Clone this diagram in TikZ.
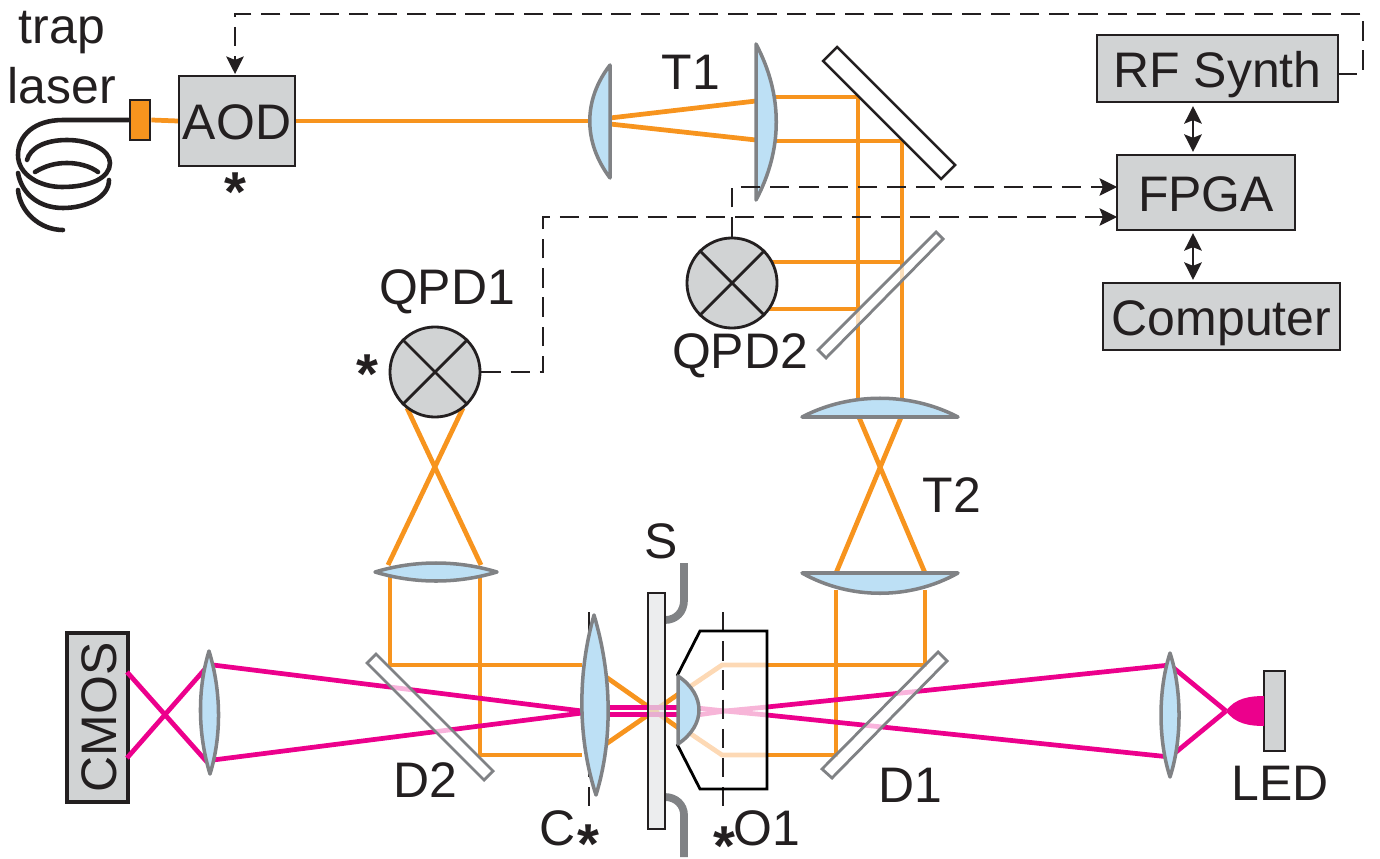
\documentclass[tikz,border=0pt]{standalone}
\usepackage{fontspec}
\setmainfont{Liberation Sans}
\usetikzlibrary{arrows.meta}
\definecolor{trap}{HTML}{F7941E}
\definecolor{trappale}{HTML}{FDD9B5}
\definecolor{img}{HTML}{EC008C}
\definecolor{imgpale}{HTML}{F7B5D8}
\definecolor{glass}{HTML}{BDE0F5}
\definecolor{boxgray}{HTML}{D1D3D4}
\definecolor{slide}{HTML}{E6E7E8}
\definecolor{rim}{HTML}{808285}
\definecolor{ink}{HTML}{231F20}
\newcommand{\markstar}{\fontsize{16}{16}\selectfont\raisebox{-0.42em}[0.31em][0pt]{\textbf{*}}}
\tikzset{
    lbl/.style={font=\fontsize{14.2}{16}\selectfont,text=ink,inner sep=0pt},
    ebox/.style={draw=ink,fill=boxgray,line width=0.6pt,inner sep=0pt,text height=10.8pt,text depth=0pt,font=\fontsize{14.2}{16}\selectfont,text=ink},
    trapbeam/.style={draw=trap,line width=1.35pt},
    palebeam/.style={draw=trappale,line width=1.35pt},
    imgbeam/.style={draw=img,line width=1.35pt},
    lens/.style={draw=rim,fill=glass,line width=1pt,line join=round},
    dichroic/.style={draw=rim,fill=white,fill opacity=0.7,line width=0.8pt},
    qpd/.style={circle,draw=ink,fill=boxgray,line width=0.8pt,minimum size=0.9cm,inner sep=0pt},
    sig/.style={draw=ink,line width=0.4pt,dash pattern=on 5.5pt off 2.8pt},
    tip/.style={-{Stealth[length=5pt,width=5pt,inset=1pt]}},
    link/.style={draw=ink,line width=0.6pt,{Stealth[length=5pt,width=5pt,inset=1pt]}-{Stealth[length=5pt,width=5pt,inset=1pt]}},
    holder/.style={draw=rim,line width=2.2pt},
    fiber/.style={draw=ink,line width=1.3pt,line cap=round},
}
\begin{document}
\begin{tikzpicture}[x=0.01cm,y=-0.01cm]
    \useasboundingbox (0,0) rectangle (1380,858);
    % electronics
    \node[ebox,minimum width=1.16cm,minimum height=0.9cm] (aod) at (237,121) {AOD};
    \node[ebox,minimum width=2.41cm,minimum height=0.67cm] (rfsynth) at (1217.5,68.5) {RF Synth};
    \node[ebox,minimum width=1.78cm,minimum height=0.75cm] (fpga) at (1206,192.5) {FPGA};
    \node[ebox,minimum width=2.37cm,minimum height=0.67cm] (computer) at (1221.5,316.5) {Computer};
    \node[ebox,line width=1.1pt,minimum width=1.69cm,minimum height=0.61cm,rotate=90] (cmos) at (97.5,717.5) {CMOS};
    \node[ebox,line width=0.8pt,minimum width=0.21cm,minimum height=0.8cm] (led) at (1274.5,711) {};
    \node[draw=ink,fill=trap,line width=0.8pt,minimum width=0.2cm,minimum height=0.4cm,inner sep=0pt] (coupler) at (140,120) {};
    % fiber
    \draw[fiber] (coupler.west) -- (63,120) .. controls (35,120) and (18,135) .. (18,155) .. controls (18,175) and (40,187) .. (62,187) .. controls (90,187) and (110,178) .. (110,163) .. controls (110,150) and (90,140) .. (67,140) .. controls (45,140) and (30,148) .. (27,160);
    \draw[fiber] (35,172) .. controls (45,166) and (55,163) .. (67,163) .. controls (78,163) and (90,166) .. (98,172);
    \draw[fiber] (109,180) .. controls (109,198) and (85,208) .. (63,208) .. controls (40,208) and (22,195) .. (18,173);
    \draw[fiber] (18,190) .. controls (20,212) and (40,230) .. (63,230);
    % trap beam
    \draw[trapbeam] (coupler.east) -- (aod.west);
    \draw[trapbeam] (aod.east) -- (592,121);
    \draw[trapbeam] (610,118) -- (756,101);
    \draw[trapbeam] (610,124) -- (756,140);
    \draw[trapbeam] (770,97) -- (858,97) -- (858,400);
    \draw[trapbeam] (770,141) -- (902,141) -- (902,400);
    \draw[trapbeam] (772,262) -- (902,262);
    \draw[trapbeam] (768,309) -- (858,309);
    \draw[trapbeam] (858,415) -- (925,573);
    \draw[trapbeam] (902,415) -- (836,573);
    \draw[trapbeam] (836,590) -- (836,755) -- (767,755);
    \draw[trapbeam] (925,590) -- (925,665) -- (767,665);
    \draw[palebeam] (767,665) -- (722,665) -- (688,688);
    \draw[palebeam] (767,755) -- (722,755) -- (688,732);
    \draw[trapbeam] (582,665) -- (390,665) -- (390,570);
    \draw[trapbeam] (582,755) -- (480,755) -- (480,570);
    \draw[trapbeam] (388,565) -- (463,408);
    \draw[trapbeam] (481,565) -- (407,408);
    \draw[trapbeam] (606,677) -- (680,729);
    \draw[trapbeam] (606,744) -- (680,693);
    % imaging beam
    \draw[imgbeam] (1226,711) -- (1170,665);
    \draw[imgbeam] (1226,711) -- (1170,757);
    \draw[imgbeam] (1170,665) -- (767,707);
    \draw[imgbeam] (1170,757) -- (767,715);
    \draw[imgpale,line width=1.35pt] (767,707) -- (725,711) -- (697,715);
    \draw[imgpale,line width=1.35pt] (767,715) -- (725,711) -- (697,708);
    \draw[imgbeam] (595,707.5) -- (690,707.5);
    \draw[imgbeam] (595,714.5) -- (690,714.5);
    \draw[imgbeam] (582,711) -- (213,665);
    \draw[imgbeam] (582,713) -- (213,760);
    \draw[imgbeam] (205,669) -- (127,758);
    \draw[imgbeam] (207,762) -- (127,672);
    \fill[img] (1226,711) .. controls (1235,698) and (1250,696) .. (1264,696) -- (1264,726) .. controls (1250,726) and (1235,724) .. (1226,711) -- cycle;
    % mirrors
    \draw[draw=ink,fill=white,line width=0.7pt] (837,47) -- (823,61) -- (941,179) -- (955,165) -- cycle;
    \draw[dichroic] (936,232) -- (943,239) -- (826,358) -- (818,350) -- cycle;
    \draw[dichroic] (376,654) -- (367,663) -- (484,780) -- (493,771) -- cycle;
    \draw[dichroic] (938,652) -- (947,661) -- (832,778) -- (822,769) -- cycle;
    % sample and objective
    \coordinate (caxis) at (589,612);
    \coordinate (caxisend) at (589,808);
    \coordinate (oaxis) at (723,612);
    \coordinate (oaxisend) at (723,808);
    \draw[sig] (caxis) -- (caxisend);
    \draw[sig] (oaxis) -- (oaxisend);
    \draw[holder] (684,563) -- (684,600) .. controls (684,612) and (676,620) .. (665,620);
    \draw[holder] (684,857) -- (684,815) .. controls (684,805) and (676,797) .. (665,797);
    \fill[slide,fill opacity=0.75] (648,593) rectangle (665,829);
    \draw[ink,line width=0.7pt] (648,593) rectangle (665,829);
    \draw[draw=black,line width=0.8pt] (677,676) -- (700,631) -- (767,631) -- (767,789) -- (700,789) -- (677,744);
    % lenses
    \draw[lens] (610,65) .. controls (583,100) and (583,142) .. (610,178) -- cycle;
    \draw[lens] (756,44) .. controls (783,95) and (783,149) .. (756,200) -- cycle;
    \draw[lens] (802,417) .. controls (850,392) and (910,392) .. (958,417) -- cycle;
    \draw[lens] (802,573) .. controls (850,600) and (910,600) .. (958,573) -- cycle;
    \draw[lens] (375,572) .. controls (415,560) and (457,560) .. (497,572) .. controls (457,584) and (415,584) .. (375,572) -- cycle;
    \draw[lens] (594,615) .. controls (577,675) and (578,740) .. (596,795) .. controls (613,740) and (612,675) .. (594,615) -- cycle;
    \draw[lens] (209,651) .. controls (197,690) and (198,735) .. (210,774) .. controls (222,735) and (221,690) .. (209,651) -- cycle;
    \draw[lens] (1170,653) .. controls (1158,690) and (1158,740) .. (1170,777) .. controls (1182,740) and (1182,690) .. (1170,653) -- cycle;
    \draw[lens] (678,676) .. controls (706,695) and (706,725) .. (678,744) -- cycle;
    % detectors
    \node[qpd] (qpdone) at (435,372) {};
    \node[qpd] (qpdtwo) at (732,283) {};
    \draw[ink,line width=0.8pt] (qpdone.north west) -- (qpdone.south east);
    \draw[ink,line width=0.8pt] (qpdone.north east) -- (qpdone.south west);
    \draw[ink,line width=0.8pt] (qpdtwo.north west) -- (qpdtwo.south east);
    \draw[ink,line width=0.8pt] (qpdtwo.north east) -- (qpdtwo.south west);
    % signals
    \coordinate (fpgaup) at (1117,187);
    \coordinate (fpgalow) at (1117,217);
    \coordinate (rfout) at (1338,74);
    \draw[sig,tip] (qpdtwo.north) -- (732,187) -- (fpgaup);
    \draw[sig,tip] (qpdone.east) -- (543,372) -- (543,217) -- (fpgalow);
    \draw[sig,tip] (rfout) -- (1363,74) -- (1363,14) -- (235,14) -- (235,74);
    \draw[link] ([yshift=-0.03cm]rfsynth.south -| 1193,0) -- ([yshift=0.02cm]fpga.north -| 1193,0);
    \draw[link] ([yshift=-0.02cm]fpga.south -| 1193,0) -- ([yshift=0.02cm]computer.north -| 1193,0);
    % labels
    \node[lbl] (traplbl) at (62,33) {trap};
    \node[lbl] (laserlbl) at (62,86) {laser};
    \node[lbl] (aodstar) at (235,179) {\markstar};
    \node[lbl] (tonelbl) at (691,72) {T1};
    \node[lbl] (qpdonelbl) at (447,292) {QPD1};
    \node[lbl] (qpdonestar) at (367,361) {\markstar};
    \node[lbl] (qpdtwolbl) at (740,356) {QPD2};
    \node[lbl] (ttwolbl) at (952,495) {T2};
    \node[lbl] (slbl) at (661,541) {S};
    \node[lbl] (dtwolbl) at (425,780) {D2};
    \node[lbl] (donelbl) at (910,785) {D1};
    \node[lbl] (clbl) at (558,828) {C};
    \node[lbl] (cstar) at (588,831) {\markstar};
    \node[lbl] (ostar) at (724,833) {\markstar};
    \node[lbl] (olbl) at (767,828) {O1};
    \node[lbl] (ledlbl) at (1280,783) {LED};
\end{tikzpicture}
\end{document}
